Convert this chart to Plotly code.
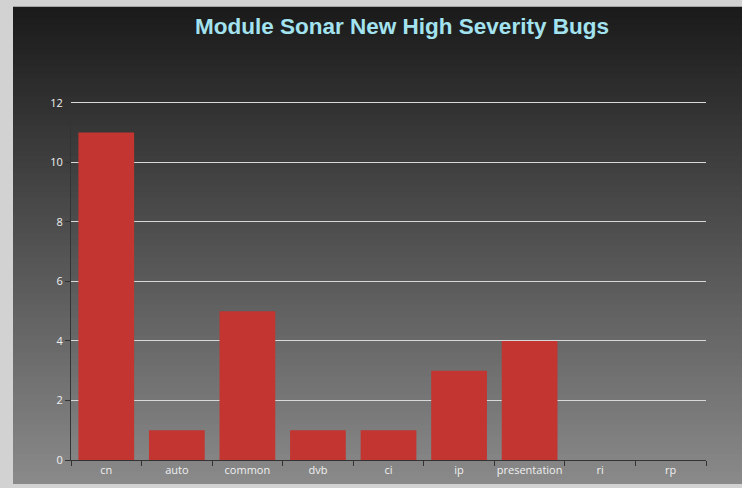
import plotly.graph_objects as go

categories = ["cn", "auto", "common", "dvb", "ci", "ip", "presentation", "ri", "rp"]
bugs = [11, 1, 5, 1, 1, 3, 4, 0, 0]
y_ticks = [0, 2, 4, 6, 8, 10, 12]

W, H = 742, 488
YMAX = 12.06
L, R, B = 71, 706, 460
T = B - 357 * YMAX / 12

def px_x(p):
    return (p - L) / (R - L)

def px_y(p):
    return (B - p) / (B - T)

shapes = []
# panel gradient (stacked rects, each to the bottom, to avoid seams)
top, bot = 7, 484
n = 80
c0, c1 = 26, 138
for i in range(n):
    y0 = top + (bot - top) * i / n
    c = int(round(c0 + (c1 - c0) * (i + 0.5) / n))
    shapes.append(dict(type="rect", xref="paper", yref="paper",
                       x0=px_x(13), x1=px_x(W + 5), y0=px_y(bot), y1=px_y(y0),
                       fillcolor=f"rgb({c},{c},{c})", line=dict(width=0), layer="below"))

fig = go.Figure(go.Bar(x=categories, y=bugs, marker=dict(color="#c23531", line=dict(width=0))))
fig.update_layout(
    width=W, height=H,
    margin=dict(l=L, r=W - R, t=T, b=H - B, autoexpand=False),
    paper_bgcolor="#d2d2d2",
    plot_bgcolor="rgba(0,0,0,0)",
    shapes=shapes,
    bargap=0.21,
    showlegend=False,
    title=dict(text="<b>Module Sonar New High Severity Bugs</b>",
               x=402 / W, xanchor="center", y=1 - 26 / H, yanchor="middle",
               font=dict(family="Liberation Sans, Arial", size=22.5, color="#a3e3ef")),
    font=dict(family="Open Sans, DejaVu Sans", size=11, color="#eeeeee"),
)
fig.update_xaxes(type="category", showline=True, linecolor="#333333", linewidth=1,
                 ticks="outside", tickson="boundaries", ticklen=5, tickcolor="#333333",
                 tickangle=0, automargin=False,
                 showgrid=False, tickfont=dict(size=11, color="#f0f0f0"))
fig.update_yaxes(range=[0, YMAX], tickvals=y_ticks, showline=True, linecolor="#333333",
                 ticks="outside", ticklen=5, tickcolor="#333333", automargin=False,
                 showgrid=True, gridcolor="#d8d8d8", gridwidth=1, zeroline=False,
                 tickfont=dict(size=11, color="#f0f0f0"))
fig.write_html("out.html", config={"displayModeBar": False},
               post_script="document.body.style.margin='0';document.body.style.overflow='hidden';")
